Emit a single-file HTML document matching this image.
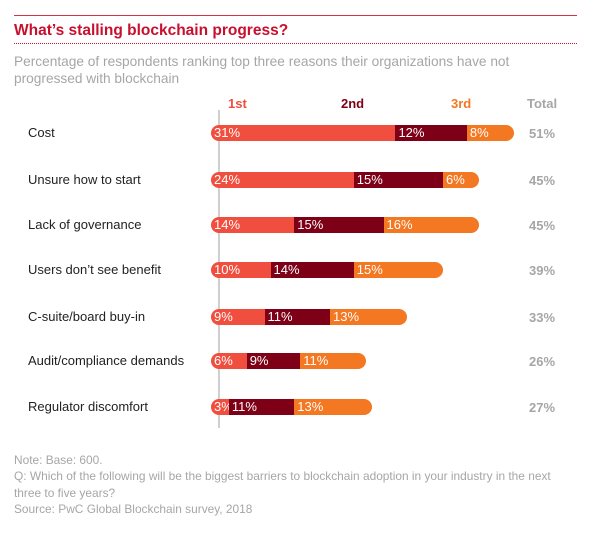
<!DOCTYPE html>
<html><head><meta charset="utf-8"><style>
body{margin:0;background:#fff;font-family:"Liberation Sans",sans-serif;}
#c{position:relative;width:614px;height:535px;overflow:hidden}
.t{position:absolute;white-space:nowrap}
</style></head><body>
<div id="c">
<div class="t" style="left:14px;top:15px;width:563px;height:1px;background:#d9304a"></div>
<div class="t" style="left:14px;top:22px;font-size:15.5px;font-weight:bold;color:#c8102e">What’s stalling blockchain progress?</div>
<div class="t" style="left:14px;top:43px;width:563px;border-top:1px dotted #c8102e"></div>
<div class="t" style="left:14px;top:54px;font-size:13.7px;line-height:16.5px;color:#a6a6a6">Percentage of respondents ranking top three reasons their organizations have not<br>progressed with blockchain</div>
<div class="t" style="left:228px;top:96px;font-size:13px;font-weight:bold;color:#f04e3e">1st</div>
<div class="t" style="left:341px;top:96px;font-size:13px;font-weight:bold;color:#7d0016">2nd</div>
<div class="t" style="left:451px;top:96px;font-size:13px;font-weight:bold;color:#f47721">3rd</div>
<div class="t" style="left:527px;top:96px;font-size:13px;font-weight:bold;color:#a6a6a6">Total</div>
<div class="t" style="left:218px;top:110px;width:2px;height:318px;background:#cfcfcf"></div>
<div id="rows"></div>
<div class="t" style="left:14px;top:452px;font-size:11.9px;line-height:16.3px;color:#a6a6a6">Note: Base: 600.<br>Q: Which of the following will be the biggest barriers to blockchain adoption in your industry in the next<br>three to five years?<br>Source: PwC Global Blockchain survey, 2018</div>
</div>
<script>
const categories=["Cost","Unsure how to start","Lack of governance","Users don’t see benefit","C-suite/board buy-in","Audit/compliance demands","Regulator discomfort"];
const first=[31,24,14,10,9,6,3];
const second=[12,15,15,14,11,9,11];
const third=[8,6,16,15,13,11,13];
const totals=[51,45,45,39,33,26,27];
const rowY=[133,180,225,270,317,361,407];
const x0=211,k=5.95;
const sx=v=>x0+v*k;
const cols=["#f04e3e","#7d0016","#f47721"];
const root=document.getElementById('rows');
categories.forEach((cat,i)=>{
  const y=rowY[i];
  const lab=document.createElement('div');lab.className='t';
  
  
  lab.style.cssText=`left:28px;top:${y-8}px;font-size:13px;color:#222`;lab.textContent=cat;root.appendChild(lab);
  const vals=[first[i],second[i],third[i]];let acc=0;
  vals.forEach((v,j)=>{
    const b=document.createElement('div');b.className='t';
    
    
    const l=sx(acc),w=v*k;
    let r='';if(j==0)r='border-radius:8px 0 0 8px;';if(j==2)r='border-radius:0 8px 8px 0;';
    b.style.cssText=`left:${l}px;top:${y-8}px;width:${w}px;height:16px;background:${cols[j]};${r}color:#fff;font-size:13px;line-height:16px;padding-left:3px;box-sizing:border-box;overflow:visible`;
    b.textContent=v+'%';root.appendChild(b);acc+=v;
  });
  const t=document.createElement('div');t.className='t';
  
  
  t.style.cssText=`left:529px;top:${y-7}px;font-size:13px;font-weight:bold;color:#a6a6a6`;t.textContent=totals[i]+'%';root.appendChild(t);
});
</script>
</body></html>
